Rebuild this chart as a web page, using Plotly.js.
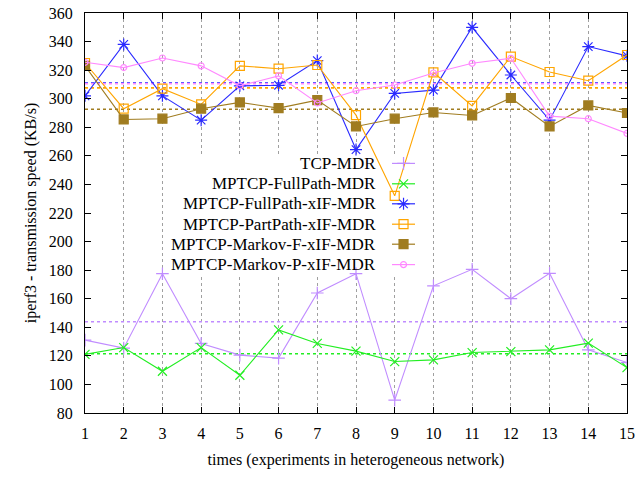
<!DOCTYPE html>
<html>
<head>
<meta charset="utf-8">
<script src="https://cdn.plot.ly/plotly-3.0.1.min.js"></script>
<style>html,body{margin:0;padding:0;background:#fff;}#chart{width:643px;height:477px;}</style>
</head>
<body>
<div id="chart"></div>
<script>
const runs = [1,2,3,4,5,6,7,8,9,10,11,12,13,14,15];
const seriesNames = ["TCP-MDR","MPTCP-FullPath-MDR","MPTCP-FullPath-xIF-MDR","MPTCP-PartPath-xIF-MDR","MPTCP-Markov-F-xIF-MDR","MPTCP-Markov-P-xIF-MDR"];
const tcpMDR      = [131,125.4,177.5,128.7,120.5,118.4,164,177.5,89,169,180.6,160,177.8,124.2,115.3];
const fullPathMDR = [121,125.8,109.2,125.8,106.4,138.2,128.7,123.3,116,117.2,122.3,123,124.2,128.9,111.8];
const fullPathXIF = [302,338,302,285,309,309.4,326.7,264.4,303.7,306,350,316.6,285,336.5,330];
const partPathXIF = [325,293,307,296,323,321,323.6,288.5,232,318.5,295,329.5,318.7,312.6,330.6];
const markovFXIF  = [323,285.5,286,293,297.4,293.4,299,280.6,286,290.4,288.3,300.5,280.6,295.3,290];
const markovPXIF  = [325.5,321.8,328.5,323,309,316,297,305.6,309.6,318,324.8,328.3,287.8,286,275.7];
const yTicks = [80,100,120,140,160,180,200,220,240,260,280,300,320,340,360];

const FONT = "Liberation Serif";
const allSeries = [tcpMDR, fullPathMDR, fullPathXIF, partPathXIF, markovFXIF, markovPXIF];
const colors  = ["#c08cff","#22ee22","#2a2aff","#ffa500","#a07c20","#ff88ff"];
const symbols = ["cross-thin-open","x-thin-open","asterisk-open","square-open","square","circle-open"];
const sizes   = [9,9,10,9,9,6];

const mean = a => a.reduce((s,v)=>s+v,0)/a.length;
const traces = [];
// opaque key background (gnuplot "key opaque"): covers the grid, drawn under the data
const keyBox = {x0:3.14, x1:9.65, y0:176.5, y1:260};
traces.push({x:[keyBox.x0,keyBox.x1,keyBox.x1,keyBox.x0,keyBox.x0], y:[keyBox.y0,keyBox.y0,keyBox.y1,keyBox.y1,keyBox.y0],
  mode:'lines', fill:'toself', fillcolor:'#ffffff', line:{width:0, color:'rgba(0,0,0,0)'}, showlegend:false, hoverinfo:'skip'});
allSeries.forEach((s,i)=>{
  const m = mean(s);
  traces.push({x:[runs[0], runs[runs.length-1]], y:[m,m], mode:'lines', showlegend:false, hoverinfo:'skip',
    line:{color:colors[i], width:1.6, dash:'dot'}});
});
allSeries.forEach((s,i)=>{
  traces.push({x:runs, y:s, mode:'lines+markers', name:seriesNames[i], showlegend:false,
    line:{color:colors[i], width:1.1},
    marker:{symbol:symbols[i], size:sizes[i], color:colors[i], line:{color:colors[i], width:1.2}}});
});
const legY = [0.624,0.573,0.523,0.472,0.422,0.371];
const annotations = [];
seriesNames.forEach((n,i)=>{
  traces.push({x:[0.5664,0.6089], y:[legY[i],legY[i]], xaxis:'x2', yaxis:'y2', mode:'lines', showlegend:false, hoverinfo:'skip',
    line:{color:colors[i], width:1.2}});
  traces.push({x:[0.5877], y:[legY[i]], xaxis:'x2', yaxis:'y2', mode:'markers', showlegend:false, hoverinfo:'skip',
    marker:{symbol:symbols[i], size:sizes[i], color:colors[i], line:{color:colors[i], width:1.2}}});
  annotations.push({xref:'paper', yref:'paper', x:0.5406, y:legY[i], xanchor:'right', yanchor:'middle',
    text:n, showarrow:false, font:{family:FONT, size:17, color:'#000'}});
});

const layout = {
  width:643, height:477,
  margin:{l:85, r:16, t:13, b:64},
  paper_bgcolor:'#fff', plot_bgcolor:'#fff',
  font:{family:FONT, size:16, color:'#000'},
  showlegend:false,
  xaxis:{range:[1,15], tickvals:runs, ticktext:runs.map(String), ticks:'inside', ticklen:6, tickcolor:'#000',
    showline:true, linecolor:'#000', linewidth:1, mirror:'ticks', zeroline:false,
    showgrid:true, gridcolor:'#a0a0a0', griddash:'dot', gridwidth:1,
    ticklabelstandoff:6, tickfont:{family:FONT, size:16, color:'#000'},
    title:{text:'times (experiments in heterogeneous network)', font:{family:FONT, size:16, color:'#000'}, standoff:12}},
  yaxis:{range:[80,360], tickvals:yTicks, ticktext:yTicks.map(String), ticks:'inside', ticklen:6, tickcolor:'#000',
    showline:true, linecolor:'#000', linewidth:1, mirror:'ticks', zeroline:false, showgrid:false,
    ticklabelstandoff:8, tickfont:{family:FONT, size:16, color:'#000'},
    title:{text:'iperf3 - transmission speed (KB/s)', font:{family:FONT, size:16, color:'#000'}, standoff:8}},
  xaxis2:{overlaying:'x', range:[0,1], visible:false, fixedrange:true},
  yaxis2:{overlaying:'y', range:[0,1], visible:false, fixedrange:true},
  annotations:annotations
};
Plotly.newPlot('chart', traces, layout, {staticPlot:true, displayModeBar:false});
</script>
</body>
</html>
